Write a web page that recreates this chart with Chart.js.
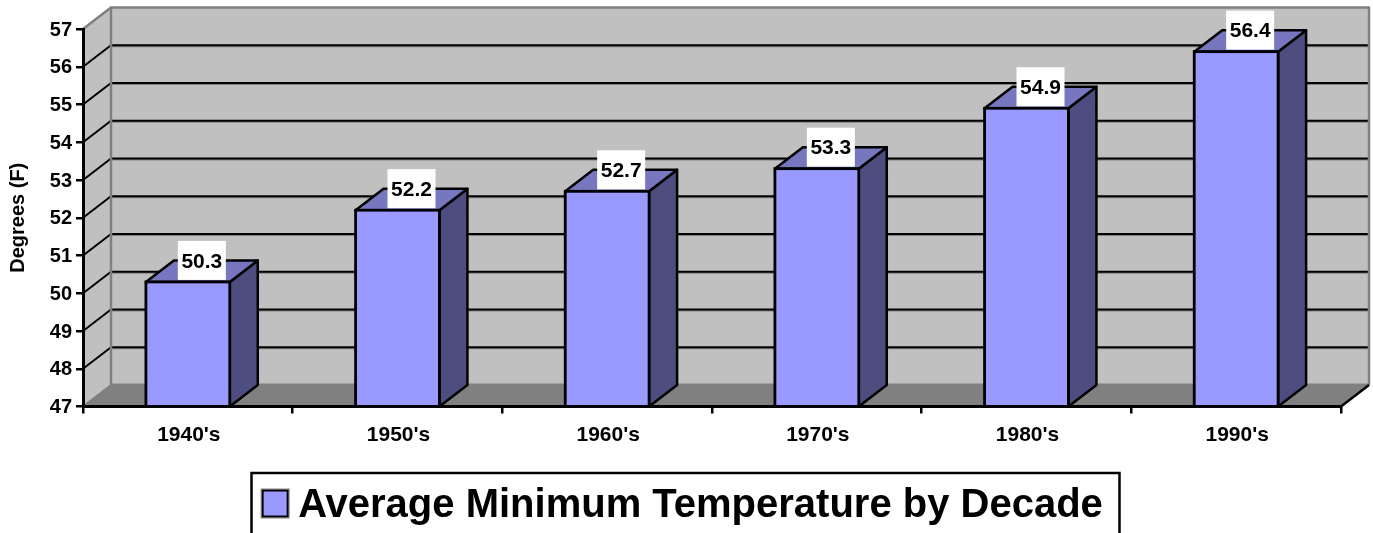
<!DOCTYPE html>
<html>
<head>
<meta charset="utf-8">
<style>
html,body{margin:0;padding:0;background:#fff;overflow:hidden}
#wrap{position:relative;width:1373px;height:533px}
</style>
<script src="https://cdn.jsdelivr.net/npm/chart.js@4"></script>
</head>
<body>
<div id="wrap"><canvas id="c" width="1373" height="533"></canvas></div>
<script>
const categories = ["1940's","1950's","1960's","1970's","1980's","1990's"];
const minTemps = [50.3,52.2,52.7,53.3,54.9,56.4];
const seriesName = "Average Minimum Temperature by Decade";
const yAxisTitle = "Degrees (F)";
const yMin = 47, yMax = 57, yStep = 1;

const FONT = "'Liberation Sans', Arial, sans-serif";
const DX = 28, DY = 21.5;
const WALL = "#c0c0c0", FLOOR = "#808080", EDGE = "#808080";
const FRONT = "#9999ff", TOP = "#7777bf", SIDE = "#4d4d80";
const LEGEND_SIZE = 40, LEGEND_BOX = 40;

function poly(ctx, pts, fill, stroke, lw){
  ctx.beginPath();
  pts.forEach((p,i)=> i?ctx.lineTo(p[0],p[1]):ctx.moveTo(p[0],p[1]));
  ctx.closePath();
  if(fill){ctx.fillStyle=fill;ctx.fill();}
  if(stroke){ctx.strokeStyle=stroke;ctx.lineWidth=lw;ctx.lineJoin="round";ctx.stroke();}
}
function line(ctx,x1,y1,x2,y2,c,lw){
  ctx.beginPath();ctx.moveTo(x1,y1);ctx.lineTo(x2,y2);ctx.strokeStyle=c;ctx.lineWidth=lw;ctx.stroke();
}

const box3d = {
  id:"box3d",
  beforeDatasetsDraw(chart){
    const {ctx,chartArea:a,scales:{y}} = chart;
    ctx.save();
    poly(ctx,[[a.left,a.top],[a.left+DX,a.top-DY],[a.left+DX,a.bottom-DY],[a.left,a.bottom]],WALL);
    poly(ctx,[[a.left+DX,a.top-DY],[a.right+DX,a.top-DY],[a.right+DX,a.bottom-DY],[a.left+DX,a.bottom-DY]],WALL);
    poly(ctx,[[a.left,a.bottom],[a.left+DX,a.bottom-DY],[a.right+DX,a.bottom-DY],[a.right,a.bottom]],FLOOR);
    y.ticks.forEach(t=>{
      if(t.value<=yMin||t.value>=yMax) return;
      const py=y.getPixelForValue(t.value);
      line(ctx,a.left+DX,py-DY+1.2,a.right+DX,py-DY+1.2,"#808080",1.5);
      line(ctx,a.left,py,a.left+DX,py-DY,"#000",2);
      line(ctx,a.left+DX,py-DY,a.right+DX,py-DY,"#000",2);
    });
    line(ctx,a.left,a.top,a.left+DX,a.top-DY,EDGE,2.5);
    line(ctx,a.left+DX-1,a.top-DY,a.right+DX+1,a.top-DY,EDGE,2.5);
    line(ctx,a.left+DX,a.top-DY,a.left+DX,a.bottom-DY,EDGE,2.5);
    line(ctx,a.right+DX,a.top-DY,a.right+DX,a.bottom-DY,EDGE,2.5);
    line(ctx,a.left+DX,a.bottom-DY,a.right+DX,a.bottom-DY,EDGE,3);
    line(ctx,a.left,a.bottom,a.left+DX,a.bottom-DY,EDGE,2);
    line(ctx,a.right,a.bottom,a.right+DX,a.bottom-DY,"#000",2.5);
    chart.getDatasetMeta(0).data.forEach(b=>{
      const l=b.x-b.width/2, r=b.x+b.width/2, t=b.y, base=a.bottom;
      poly(ctx,[[r,t],[r+DX,t-DY],[r+DX,base-DY],[r,base]],SIDE,"#000",2.5);
      poly(ctx,[[l,t],[l+DX,t-DY],[r+DX,t-DY],[r,t]],TOP,"#000",2.5);
    });
    ctx.restore();
  },
  afterDatasetsDraw(chart){
    const {ctx,chartArea:a} = chart;
    ctx.save();
    const meta = chart.getDatasetMeta(0);
    meta.data.forEach(b=>{
      ctx.strokeStyle="#000";ctx.lineWidth=2.8;
      ctx.strokeRect(b.x-b.width/2,b.y,b.width,a.bottom-b.y);
    });
    ctx.font="bold 21px "+FONT;
    ctx.textAlign="center";ctx.textBaseline="middle";
    meta.data.forEach((b,i)=>{
      const cx=b.x+DX/2, cy=b.y-DY;
      ctx.fillStyle="#fff";ctx.fillRect(cx-24,cy-19.5,48,39);
      ctx.fillStyle="#000";ctx.fillText(minTemps[i].toFixed(1),cx,cy+1.5);
    });
    ctx.restore();
  },
  afterDraw(chart){
    const {ctx,legend} = chart;
    const hb = legend.legendHitBoxes[0];
    if(!hb) return;
    ctx.save();
    const mid = 503.5;
    const sx = hb.left+LEGEND_BOX+LEGEND_SIZE/2-35.5;
    ctx.fillStyle=FRONT;ctx.fillRect(sx,mid-13,25,26);
    ctx.strokeStyle="#808080";ctx.lineWidth=1;ctx.strokeRect(sx-1.5,mid-14.5,28,29);
    ctx.strokeStyle="#000";ctx.lineWidth=2;ctx.strokeRect(sx,mid-13,25,26);
    ctx.lineWidth=2.5;ctx.strokeStyle="#000";
    ctx.strokeRect(251.5,473,868,70);
    ctx.restore();
  }
};

new Chart(document.getElementById("c"),{
  type:"bar",
  data:{labels:categories,datasets:[{
    label:seriesName,data:minTemps,base:yMin,backgroundColor:FRONT,borderWidth:0,
    barPercentage:0.4,categoryPercentage:1
  }]},
  plugins:[box3d],
  options:{
    responsive:false,animation:false,
    layout:{padding:{left:0,right:32,top:29,bottom:-3}},
    plugins:{
      tooltip:{enabled:false},
      legend:{
        display:true,position:"bottom",
        labels:{
          color:"#000",font:{family:FONT,size:LEGEND_SIZE,weight:"bold"},
          boxWidth:LEGEND_BOX,boxHeight:18,padding:7,
          generateLabels(){return [{text:seriesName,fillStyle:"rgba(0,0,0,0)",strokeStyle:"rgba(0,0,0,0)",lineWidth:0,datasetIndex:0}];}
        }
      }
    },
    scales:{
      x:{
        grid:{drawOnChartArea:false,color:"#000",lineWidth:2.5,tickLength:7},
        border:{display:true,color:"#000",width:3,z:1},
        ticks:{color:"#000",font:{family:FONT,size:21,weight:"bold"},padding:9,maxRotation:0,labelOffset:1},
        afterFit(s){s.height=72.5;}
      },
      y:{
        min:yMin,max:yMax,
        grid:{drawOnChartArea:false,color:"#000",lineWidth:2.5,tickLength:7},
        border:{display:true,color:"#000",width:3,z:1},
        ticks:{stepSize:yStep,color:"#000",font:{family:FONT,size:20,weight:"bold"},padding:4,labelOffset:1},
        title:{display:true,text:yAxisTitle,color:"#000",font:{family:FONT,size:20,weight:"bold"},padding:{top:6,bottom:0}},
        afterFit(s){s.width=83;}
      }
    }
  }
});
</script>
</body>
</html>
